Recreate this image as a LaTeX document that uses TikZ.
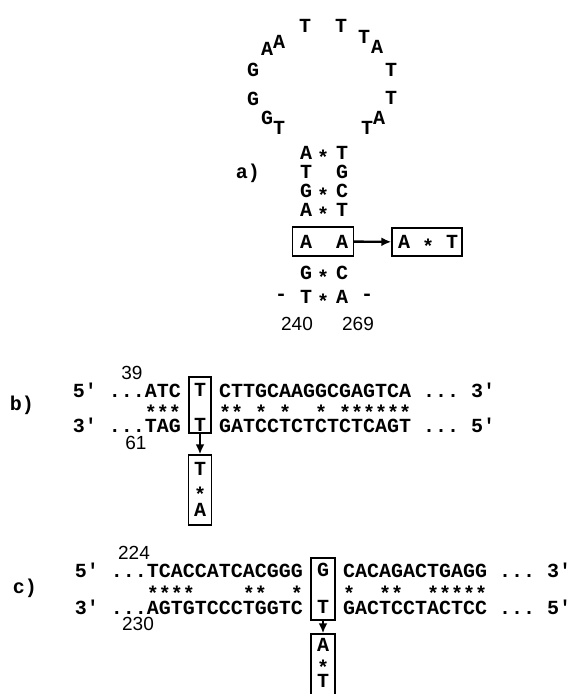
\documentclass[tikz,border=0pt]{standalone}
\usepackage{fontspec}
\setmonofont{Liberation Mono}
\setsansfont{Liberation Sans}
\usetikzlibrary{positioning,arrows.meta}

\tikzset{
	nuc/.style={font=\ttfamily\bfseries\fontsize{20}{20}\selectfont,inner sep=0pt},
	pairstar/.style={nuc,anchor=base,yshift=-11pt},
	num/.style={font=\sffamily\fontsize{19}{19}\selectfont,inner sep=0pt},
	mutbox/.style={draw,line width=1.4pt,inner sep=0pt},
	mutarrow/.style={-{Latex[length=10pt,width=9pt]},line width=2.4pt},
}
\newcommand{\gp}{\phantom{*}}

\begin{document}
\begin{tikzpicture}[x=1pt,y=-1pt]
	\useasboundingbox (0,0) rectangle (576,694);

	% a) hairpin
	\node[nuc] (labela) at (248,173) {a)};
	\foreach \x/\y/\b [count=\i] in {279/128/T,267/118/G,253/99/G,253/70/G,267/49/A,279/42/A,305/26/T,341/26/T,364/37/T,377/47/A,391/70/T,391/98/T,379/118/A,367/128/T}
		\node[nuc] (loop\i) at (\x,\y) {\b};
	\node[nuc] (s1l) at (306,153) {A};
	\node[pairstar] (s1s) at (323,153) {*};
	\node[nuc] (s1r) at (342,153) {T};
	\node[nuc] (s2l) at (306,172) {T};
	\node[nuc] (s2r) at (342,172) {G};
	\node[nuc] (s3l) at (306,191) {G};
	\node[pairstar] (s3s) at (323,191) {*};
	\node[nuc] (s3r) at (342,191) {C};
	\node[nuc] (s4l) at (306,210) {A};
	\node[pairstar] (s4s) at (323,210) {*};
	\node[nuc] (s4r) at (342,210) {T};
	\node[mutbox,minimum width=61pt,minimum height=29pt] (oldpair) at (323,241.5) {};
	\node[nuc] (olda) at (306,242) {A};
	\node[nuc] (oldb) at (342,242) {A};
	\node[mutbox,minimum width=70pt,minimum height=28pt] (newpair) at (427,242) {};
	\node[nuc] (newa) at (404,242) {A};
	\node[pairstar] (newstar) at (428,242) {*};
	\node[nuc] (newt) at (452,242) {T};
	\draw[mutarrow] (oldpair) -- (newpair);
	\node[nuc] (s5l) at (306,273) {G};
	\node[pairstar] (s5s) at (323,273) {*};
	\node[nuc] (s5r) at (342,273) {C};
	\node[nuc] (dashl) at (281,297) {-};
	\node[nuc] (s6l) at (306,297) {T};
	\node[pairstar] (s6s) at (323,297) {*};
	\node[nuc] (s6r) at (342,297) {A};
	\node[nuc] (dashr) at (367,297) {-};
	\node[num] (pos240) at (297,324) {240};
	\node[num] (pos269) at (358,324) {269};

	% b)
	\node[nuc] (labelb) at (22,405) {b)};
	\node[num] (pos39) at (132,373) {39};
	\node[nuc,anchor=east] (b5top) at (181,390) {5' ...ATC};
	\node[nuc,anchor=west] (b3top) at (219,390) {CTTGCAAGGCGAGTCA ... 3'};
	\node[pairstar,anchor=base east] (bstarl) at (181,408) {***};
	\node[pairstar,anchor=base west] (bstarr) at (219,408) {**\gp*\gp*\gp\gp*\gp******};
	\node[nuc,anchor=east] (b3bot) at (181,425) {3' ...TAG};
	\node[nuc,anchor=west] (b5bot) at (219,425) {GATCCTCTCTCTCAGT ... 5'};
	\node[num] (pos61) at (136,443) {61};
	\node[mutbox,minimum width=22pt,minimum height=56pt] (bold) at (200,405) {};
	\node[nuc] (boldt) at (200,390) {T};
	\node[nuc] (boldb) at (200,425) {T};
	\node[mutbox,minimum width=23pt,minimum height=70pt] (bnew) at (200,490) {};
	\node[nuc] (bnewt) at (200,469) {T};
	\node[pairstar] (bnews) at (200,490) {*};
	\node[nuc] (bnewa) at (200,510) {A};
	\draw[mutarrow] (bold) -- (bnew);

	% c)
	\node[nuc] (labelc) at (25,588) {c)};
	\node[num] (pos224) at (134,553) {224};
	\node[nuc,anchor=east] (c5top) at (303,570) {5' ...TCACCATCACGGG};
	\node[nuc,anchor=west] (c3top) at (343,570) {CACAGACTGAGG ... 3'};
	\node[pairstar,anchor=base east] (cstarl) at (303,589) {****\gp\gp\gp\gp**\gp\gp*};
	\node[pairstar,anchor=base west] (cstarr) at (343,589) {*\gp\gp**\gp\gp*****};
	\node[nuc,anchor=east] (c3bot) at (303,607) {3' ...AGTGTCCCTGGTC};
	\node[nuc,anchor=west] (c5bot) at (343,607) {GACTCCTACTCC ... 5'};
	\node[num] (pos230) at (138,624) {230};
	\node[mutbox,minimum width=24pt,minimum height=62pt] (cold) at (323,589) {};
	\node[nuc] (coldg) at (323,570) {G};
	\node[nuc] (coldt) at (323,607) {T};
	\node[mutbox,minimum width=24pt,minimum height=68pt] (cnew) at (323,668) {};
	\node[nuc] (cnewa) at (323,645) {A};
	\node[pairstar] (cnews) at (323,663) {*};
	\node[nuc] (cnewt) at (323,681) {T};
	\draw[mutarrow] (cold) -- (cnew);
\end{tikzpicture}
\end{document}
